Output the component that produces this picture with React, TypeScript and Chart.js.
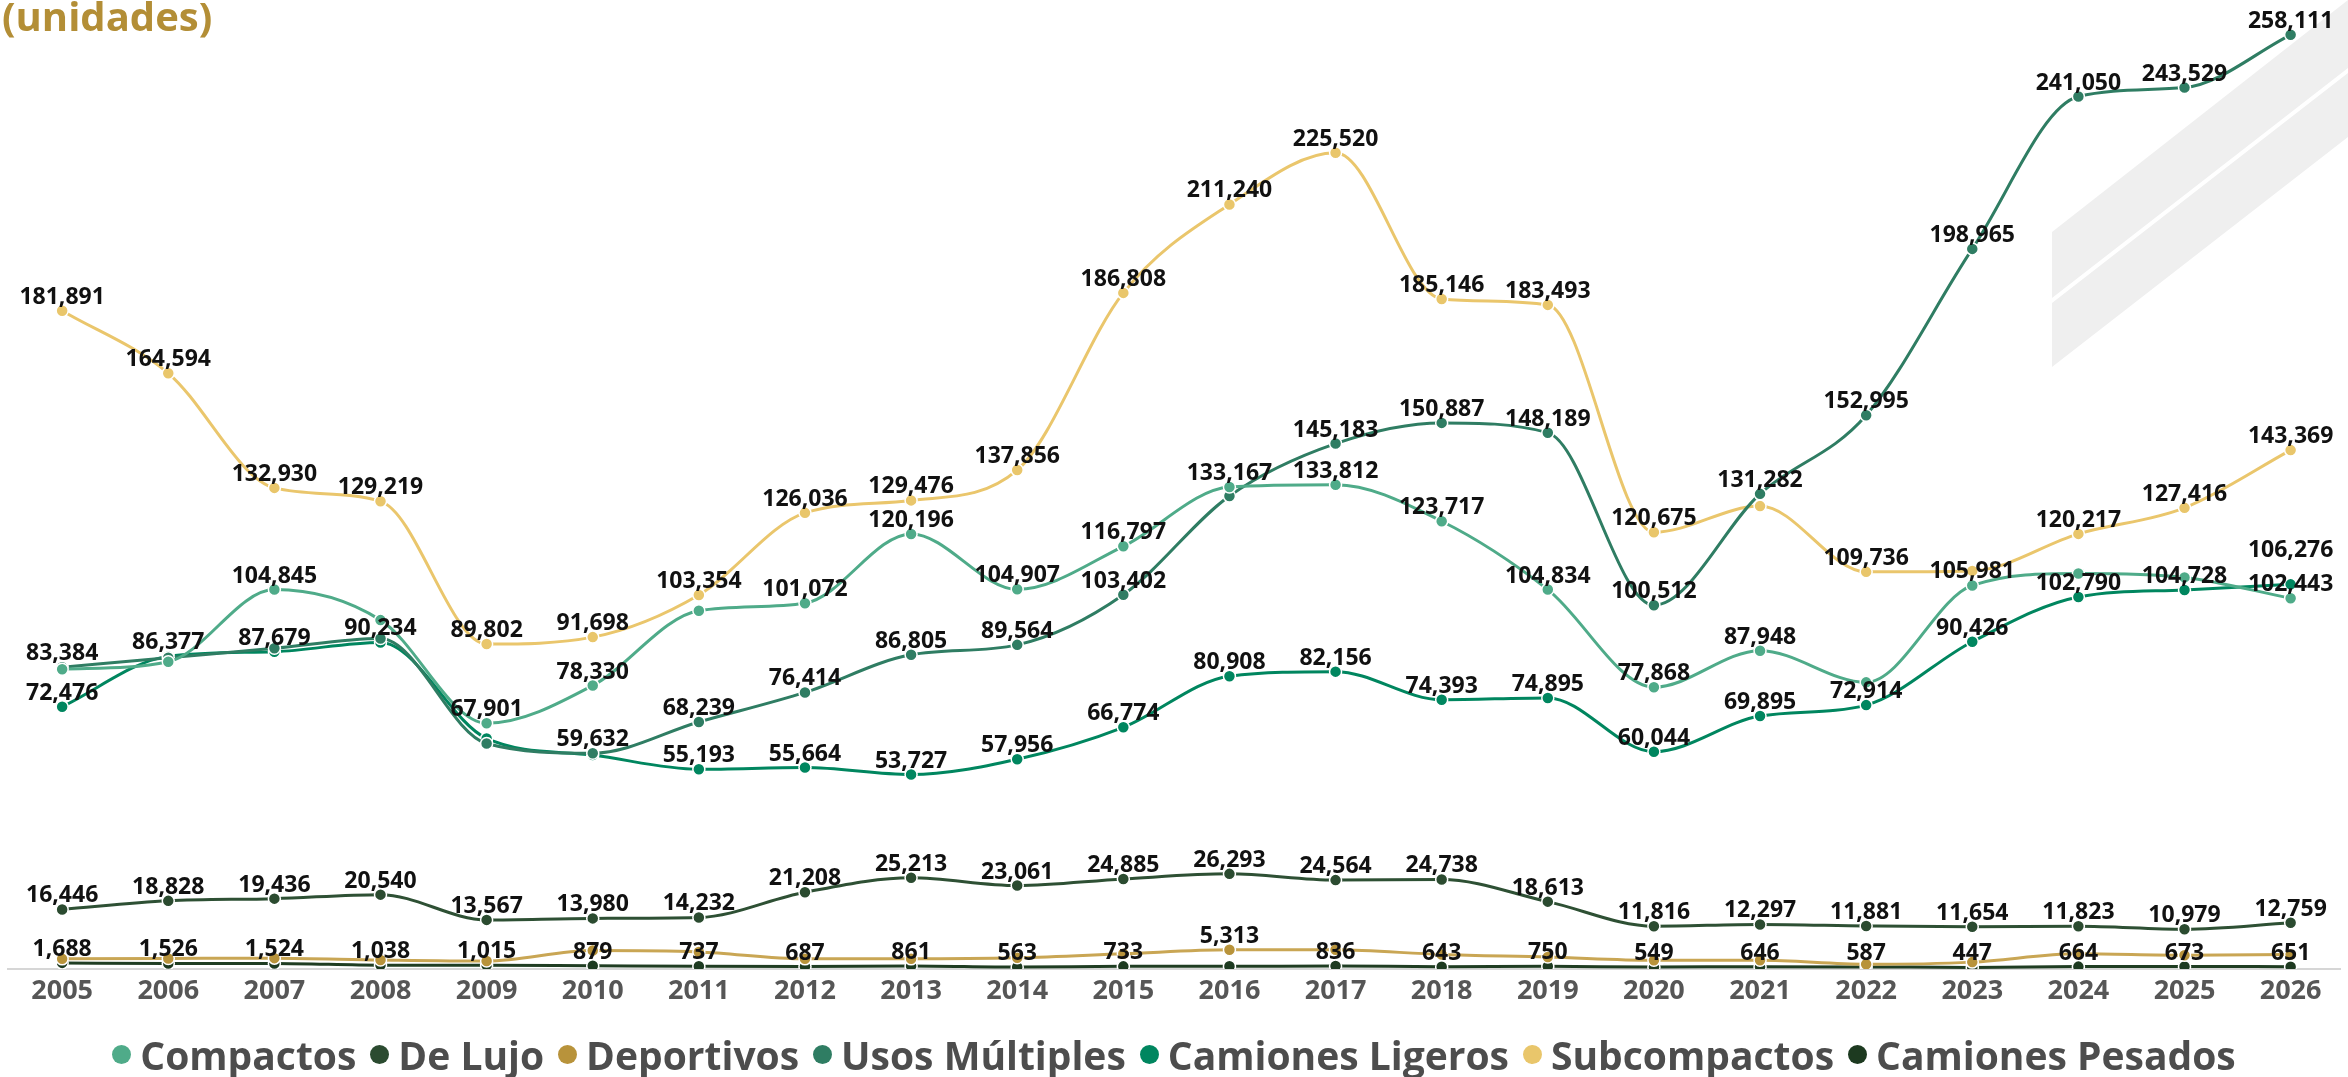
import React, { useEffect, useRef } from "react";
import { Chart, registerables } from "chart.js";

Chart.register(...registerables);

const years = [2005, 2006, 2007, 2008, 2009, 2010, 2011, 2012, 2013, 2014, 2015, 2016, 2017, 2018, 2019, 2020, 2021, 2022, 2023, 2024, 2025, 2026];

const compactos = [82800, 84900, 104845, 96400, 67901, 78330, 99000, 101072, 120196, 104907, 116797, 133167, 133812, 123717, 104834, 77868, 87948, 79200, 105981, 109300, 108200, 102443];
const deLujo = [16446, 18828, 19436, 20540, 13567, 13980, 14232, 21208, 25213, 23061, 24885, 26293, 24564, 24738, 18613, 11816, 12297, 11881, 11654, 11823, 10979, 12759];
const deportivos = [2800, 2900, 3000, 2500, 2200, 5100, 4700, 2800, 2800, 3100, 4200, 5313, 5300, 4000, 3300, 2400, 2400, 1300, 1900, 4200, 3800, 4000];
const usosMultiples = [83384, 86000, 88600, 91300, 62300, 59632, 68239, 76414, 86805, 89564, 103402, 130700, 145183, 150887, 148189, 100512, 131282, 152995, 198965, 241050, 243529, 258111];
const camionesLigeros = [72476, 86377, 87679, 90234, 63700, 59100, 55193, 55664, 53727, 57956, 66774, 80908, 82156, 74393, 74895, 60044, 69895, 72914, 90426, 102790, 104728, 106276];
const subcompactos = [181891, 164594, 132930, 129219, 89802, 91698, 103354, 126036, 129476, 137856, 186808, 211240, 225520, 185146, 183493, 120675, 127900, 109736, 110000, 120217, 127416, 143369];
const camionesPesados = [1688, 1526, 1524, 1038, 1015, 879, 737, 687, 861, 563, 733, 740, 836, 643, 750, 549, 646, 587, 447, 664, 673, 651];

const seriesNames = ["Compactos", "De Lujo", "Deportivos", "Usos Múltiples", "Camiones Ligeros", "Subcompactos", "Camiones Pesados"];
const seriesValues = [compactos, deLujo, deportivos, usosMultiples, camionesLigeros, subcompactos, camionesPesados];
const seriesColors = ["#4fab89", "#2b4b30", "#b8933b", "#2f7d63", "#00865f", "#e9c66b", "#1d3a20"];
const lineColors = ["#4fab89", "#2e5034", "#c9a654", "#2f7d63", "#00865f", "#eac66c", "#1f3d22"];

// years whose value label is not printed in the source graphic
const hiddenLabels: Record<string, number[]> = {
  "Compactos": [2005, 2006, 2008, 2011, 2022, 2024, 2025],
  "De Lujo": [],
  "Deportivos": years.filter((y) => y !== 2016),
  "Usos Múltiples": [2006, 2007, 2008, 2009, 2016],
  "Camiones Ligeros": [2009, 2010],
  "Subcompactos": [2021, 2023],
  "Camiones Pesados": [2016],
};
const labelLift: Record<string, Record<number, number>> = {
  "Camiones Ligeros": { 2026: 20 },
};

const LABEL_FONT = "bold 23px 'Open Sans'";

const valueLabels = {
  id: "valueLabels",
  afterDatasetsDraw(chart: any) {
    const ctx = chart.ctx;
    ctx.save();
    ctx.font = LABEL_FONT;
    ctx.fillStyle = "#111111";
    ctx.textAlign = "center";
    ctx.textBaseline = "alphabetic";
    chart.data.datasets.forEach((ds: any, i: number) => {
      const meta = chart.getDatasetMeta(i);
      const hidden = hiddenLabels[ds.label] || [];
      const lift = labelLift[ds.label] || {};
      meta.data.forEach((pt: any, j: number) => {
        const yr = years[j];
        if (hidden.includes(yr)) return;
        const v = seriesValues[i][j];
        const extra = lift[yr] || 0;
        ctx.fillText(v.toLocaleString("en-US"), pt.x, pt.y - 7 - extra);
      });
    });
    ctx.restore();
  },
};

const backdrop = {
  id: "backdrop",
  beforeDraw(chart: any) {
    const ctx = chart.ctx;
    ctx.save();
    ctx.fillStyle = "#efefef";
    ctx.beginPath();
    ctx.moveTo(2052, 232);
    ctx.lineTo(2348, 0);
    ctx.lineTo(2348, 68);
    ctx.lineTo(2052, 298);
    ctx.closePath();
    ctx.fill();
    ctx.beginPath();
    ctx.moveTo(2052, 303);
    ctx.lineTo(2348, 73);
    ctx.lineTo(2348, 137);
    ctx.lineTo(2052, 367);
    ctx.closePath();
    ctx.fill();
    ctx.restore();
  },
};

export default function App() {
  const ref = useRef<HTMLCanvasElement>(null);

  useEffect(() => {
    if (!ref.current) return;
    const chart = new Chart(ref.current, {
      type: "line",
      data: {
        datasets: seriesNames.map((name, i) => ({
          label: name,
          data: years.map((y, j) => ({ x: y, y: seriesValues[i][j] })),
          borderColor: lineColors[i],
          backgroundColor: seriesColors[i],
          pointBackgroundColor: seriesColors[i],
          pointBorderColor: "#ffffff",
          pointBorderWidth: 1.5,
          pointRadius: 6,
          borderWidth: 3,
          cubicInterpolationMode: "monotone" as const,
          fill: false,
        })),
      },
      options: {
        responsive: false,
        devicePixelRatio: 1,
        animation: false,
        layout: { padding: { top: 28, left: 0, right: 0, bottom: 0 } },
        plugins: {
          legend: { display: false },
          tooltip: { enabled: false },
        },
        scales: {
          x: {
            type: "linear",
            min: 2004.485,
            max: 2026.47,
            afterBuildTicks: (axis: any) => {
              axis.ticks = years.map((v) => ({ value: v }));
            },
            afterFit: (scale: any) => {
              scale.height = 108;
            },
            grid: { display: false, drawTicks: false },
            border: { display: true, color: "#d6d6d6", width: 2 },
            ticks: {
              autoSkip: false,
              maxRotation: 0,
              padding: 6,
              color: "#565656",
              font: { family: "'Open Sans'", weight: "bold", size: 27 },
              callback: (v: any) => String(v),
            },
          },
          y: {
            display: false,
            min: 0,
            max: 260000,
          },
        },
      },
      plugins: [backdrop, valueLabels],
    });
    return () => chart.destroy();
  }, []);

  return (
    <div style={{ position: "fixed", left: 0, top: 0, width: 2348, height: 1077, background: "#ffffff", overflow: "hidden" }}>
      <canvas ref={ref} width={2348} height={1077} style={{ position: "absolute", left: 0, top: 0 }} />
      <div style={{ position: "absolute", left: 2, top: -4, font: "700 40px 'Open Sans'", lineHeight: 1, color: "#b38e36" }}>(unidades)</div>
      <div style={{ position: "absolute", left: 0, right: 0, top: 1035, display: "flex", justifyContent: "center", alignItems: "center", font: "700 39px 'Open Sans'", lineHeight: 1, color: "#4d4d4d", whiteSpace: "nowrap" }}>
        {seriesNames.map((name, i) => (
          <span key={name} style={{ display: "inline-flex", alignItems: "center", marginRight: i < seriesNames.length - 1 ? 14 : 0 }}>
            <span style={{ display: "inline-block", width: 19, height: 19, borderRadius: "50%", background: seriesColors[i], marginRight: 9 }} />
            {name}
          </span>
        ))}
      </div>
    </div>
  );
}
